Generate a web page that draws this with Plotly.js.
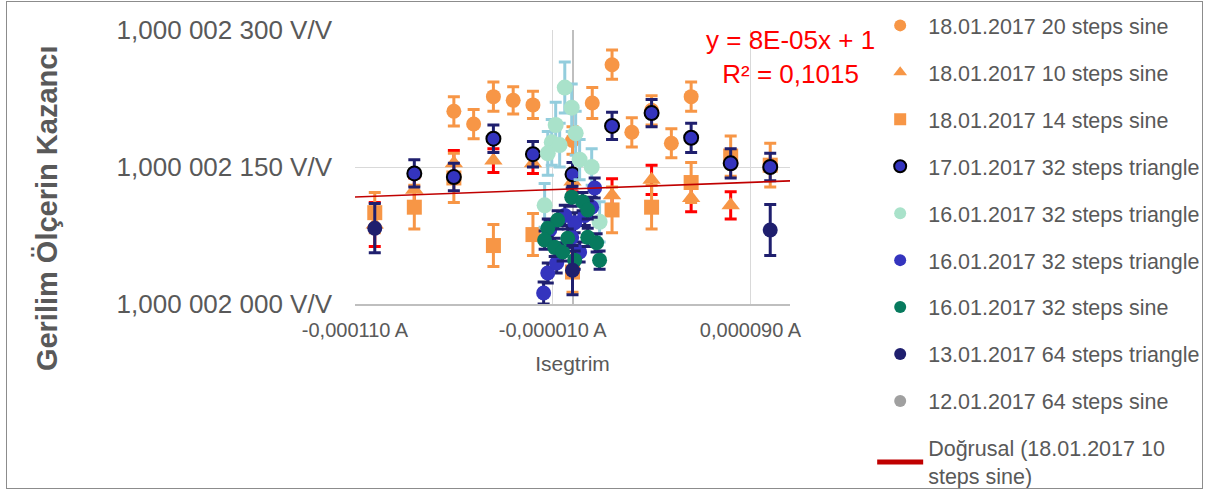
<!DOCTYPE html>
<html>
<head>
<meta charset="utf-8">
<script src="https://cdn.plot.ly/plotly-3.0.1.min.js"></script>
<style>
  html, body { margin: 0; padding: 0; background: #fff; }
  #wrap { position: relative; width: 1208px; height: 490px; }
  #chart { width: 1208px; height: 490px; }
  #frame { position: absolute; left: 6px; top: 1px; width: 1195px; height: 486px; border: 1px solid #8c8c8c; pointer-events: none; }
</style>
</head>
<body>
<div id="wrap"><div id="chart"></div><div id="frame"></div></div>
<script>
// Isegtrim in µA (axis labels shown in A); gain given as (G - 1) in nV/V
const xTickVals = [-110, -10, 90];
const xTickText = ['-0,000110 A', '-0,000010 A', '0,000090 A'];
const yTickVals = [2000, 2150, 2300];
const yTickText = ['1,000 002 000 V/V', '1,000 002 150 V/V', '1,000 002 300 V/V'];

const seriesNames = [
  '18.01.2017 20 steps sine',
  '18.01.2017 10 steps sine',
  '18.01.2017 14 steps sine',
  '17.01.2017 32 steps triangle',
  '16.01.2017 32 steps triangle',
  '16.01.2017 32 steps triangle',
  '16.01.2017 32 steps sine',
  '13.01.2017 64 steps triangle',
  '12.01.2017 64 steps sine'
];

const s20x = [-60, -50, -40, -30, -20, 0, 10, 20, 30, 40, 50, 60];
const s20y = [2211, 2197, 2227, 2223, 2218, 2179, 2220, 2262, 2188, 2212, 2176, 2227];
const s20e = [16, 16, 16, 15, 15, 15, 17, 16, 16, 16, 16, 16];

const s10x = [-100, -80, -60, -40, -20, 0, 20, 40, 60, 80];
const s10y = [2087, 2125, 2154, 2157, 2154, 2134, 2119, 2136, 2116, 2108];
const s10e = [24, 13, 14, 13, 11, 11, 18, 16, 15, 15];

const s14x = [-100, -80, -60, -40, -20, 0, 20, 40, 60, 80, 100];
const s14y = [2100, 2106, 2138, 2064, 2076, 2035, 2103, 2106, 2133, 2162, 2152];
const s14e = [22, 24, 27, 23, 23, 22, 25, 24, 22, 22, 24];

const s17x = [-80, -60, -40, -20, 0, 20, 40, 60, 80, 100];
const s17y = [2143, 2139, 2181, 2164, 2142, 2195, 2209, 2182, 2154, 2150];
const s17e = [15, 15, 15, 14, 13, 15, 15, 16, 16, 15];

const s16ax = [-3.9, -0.4, 1.6, -10.5, -12.5, -6.5, 3.6, 9.7, -14.1, 13.7, -8.5];
const s16ay = [2237, 2215, 2187, 2177, 2165, 2174, 2158, 2150, 2108, 2090, 2196];
const s16ae = [28, 26, 24, 25, 24, 24, 22, 20, 24, 22, 25];

const s16bx = [11.2, 9.7, 1.1, -0.4, -11.5, -12.5, -8, -14.6, 3.6, 6.2, -3.9];
const s16by = [2127, 2106, 2089, 2073, 2081, 2034, 2045, 2012, 2057, 2097, 2097];
const s16be = [11, 11, 11, 11, 11, 11, 11, 12, 11, 11, 11];

const s16cx = [-0.4, 5.1, 7.7, -7.5, -12.5, -14.1, -9, -5, -2.4, 7.7, 12.2, 1.1, 13.7];
const s16cy = [2117, 2112, 2103, 2092, 2083, 2070, 2062, 2057, 2072, 2073, 2067, 2048, 2048];
const s16ce = [10, 10, 10, 10, 10, 10, 10, 10, 10, 10, 10, 10, 10];

const s13x = [-100, 0, 100];
const s13y = [2083, 2037, 2081];
const s13e = [27, 27, 28];

// no visible points for this series in the chart (legend entry only)
const s12x = [null];
const s12y = [null];

// Linear trend of "18.01.2017 10 steps sine": y = 8E-05x + 1 (slope in V/V per A)
const trendSlope = 8e-5;
const trendInterceptNano = 2126;
const trendLabel = 'Doğrusal (18.01.2017 10<br>steps sine)';
const trendText = 'y = 8E-05x + 1<br>R² = 0,1015';

const xRange = [-110, 110];
const yRange = [2000, 2300];

const ORANGE = '#F79646', RED = '#FF0000', BLUE = '#3434BE', NAVY = '#1F1F6E',
      MINT = '#A9E2CA', LBLUE = '#93CDDD', TEAL = '#077A5E', GRAY = '#A0A0A0';

function errs(arr, color) {
  return { type: 'data', array: arr, visible: true, color: color, thickness: 3, width: 6 };
}
function tr(i, x, y, e, sym, size, fill, errColor, lineColor, lineW) {
  return {
    type: 'scatter', mode: 'markers', name: seriesNames[i], x: x, y: y,
    legendgroup: 'g' + i, legendrank: i + 1, showlegend: true,
    marker: { symbol: sym, size: size, color: fill, line: { color: lineColor || fill, width: lineW || 0 } },
    error_y: e ? errs(e, errColor) : undefined,
    cliponaxis: false
  };
}

const trendX = xRange.slice();
const trendY = trendX.map(v => trendInterceptNano + trendSlope * v * 1e-6 * 1e9);

const data = [
  tr(0, s20x, s20y, s20e, 'circle', 15, ORANGE, ORANGE),
  tr(1, s10x, s10y, s10e, 'triangle-up', 16, ORANGE, RED),
  tr(2, s14x, s14y, s14e, 'square', 15, ORANGE, ORANGE),
  tr(3, s17x, s17y, s17e, 'circle', 14, BLUE, NAVY, '#000000', 2),
  tr(4, s16ax, s16ay, s16ae, 'circle', 16, MINT, LBLUE),
  tr(5, s16bx, s16by, s16be, 'circle', 15, BLUE, NAVY),
  tr(6, s16cx, s16cy, s16ce, 'circle', 15, TEAL, NAVY),
  tr(7, s13x, s13y, s13e, 'circle', 15, NAVY, NAVY),
  tr(8, s12x, s12y, null, 'circle', 15, GRAY, GRAY),
  {
    type: 'scatter', mode: 'lines', name: trendLabel, x: trendX, y: trendY,
    legendgroup: 'g9', legendrank: 10,
    line: { color: '#C00000', width: 1.6 }
  }
];

const FONT = 'Liberation Sans, Arial, sans-serif';
const layout = {
  width: 1208, height: 490,
  margin: { l: 355, r: 418, t: 30, b: 186 },
  paper_bgcolor: '#ffffff', plot_bgcolor: '#ffffff',
  font: { family: FONT, color: '#595959' },
  showlegend: true,
  legend: {
    xref: 'container', yref: 'container',
    x: 0.722, xanchor: 'left', y: 0.99, yanchor: 'top',
    font: { family: FONT, size: 21.5, color: '#595959' },
    tracegroupgap: 16, itemsizing: 'constant', itemwidth: 46,
    maxheight: 490,
    bgcolor: 'rgba(0,0,0,0)'
  },
  xaxis: {
    range: xRange, tickvals: xTickVals, ticktext: xTickText,
    showgrid: true, gridcolor: '#D9D9D9', gridwidth: 1,
    zeroline: true, zerolinecolor: '#BFBFBF', zerolinewidth: 2,
    showline: true, linecolor: '#BFBFBF', linewidth: 2,
    ticks: '', ticklabelstandoff: 7,
    tickfont: { family: FONT, size: 20, color: '#595959' },
    title: { text: 'Isegtrim', font: { family: FONT, size: 21, color: '#595959' }, standoff: 16 }
  },
  yaxis: {
    range: yRange, tickvals: yTickVals, ticktext: yTickText,
    showgrid: true, gridcolor: '#D9D9D9', gridwidth: 1,
    zeroline: false, showline: false,
    ticks: '', ticklabelstandoff: 22,
    tickfont: { family: FONT, size: 26, color: '#595959' }
  },
  annotations: [
    {
      xref: 'paper', yref: 'paper', x: -0.708, y: 0.35, xanchor: 'center', yanchor: 'middle',
      text: '<b>Gerilim Ölçerin Kazancı</b>', textangle: -90, showarrow: false,
      font: { family: FONT, size: 29, color: '#595959' }
    },
    {
      xref: 'paper', yref: 'paper', x: 1.002, y: 0.903, xanchor: 'center', yanchor: 'middle',
      text: trendText, showarrow: false, align: 'center',
      font: { family: FONT, size: 26, color: '#FF0000' }
    }
  ]
};

Plotly.newPlot('chart', data, layout, { displayModeBar: false, staticPlot: true });
</script>
</body>
</html>
